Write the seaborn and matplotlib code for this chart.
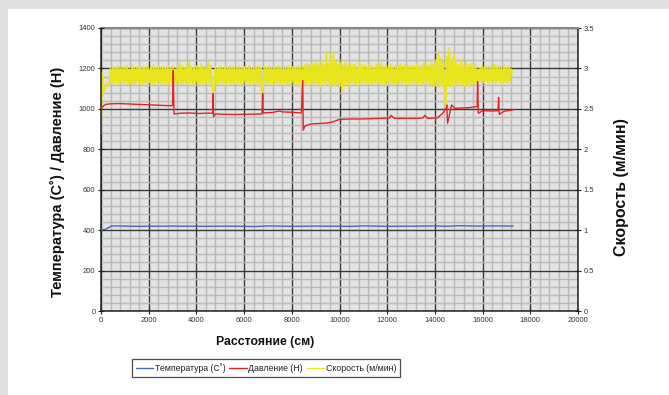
import numpy as np
import pandas as pd
import matplotlib
matplotlib.use("Agg")
import matplotlib.pyplot as plt
from matplotlib.patches import Rectangle
from matplotlib.ticker import MultipleLocator
from matplotlib.lines import Line2D
import seaborn as sns

# ---------------- data ----------------
temp_dist = [0, 200, 450, 1500, 3000, 4500, 5200, 6500, 7000, 8000, 9000, 10500, 11000,
             12000, 13500, 14000, 14500, 15000, 15800, 16500, 17280]
temp_vals = [400, 405, 421, 419, 420, 419, 420, 418, 421, 419, 420, 419, 421,
             419, 420, 421, 419, 422, 420, 421, 420]

press_dist = [0, 100, 200, 400, 800, 1200, 1600, 2000, 2400, 2800, 3000, 3030, 3060,
              3300, 3700, 4100, 4500, 4680, 4700, 4720, 4800, 5200, 5600, 6000, 6400,
              6750, 6780, 6800, 7200, 7500, 7600, 8000, 8400, 8460, 8480, 8550, 8800,
              9200, 9500, 9700, 10000, 10400, 11000, 11500, 12100, 12160, 12300, 12800,
              13200, 13500, 13580, 13700, 14100, 14300, 14400, 14480, 14500, 14530,
              14700, 14840, 15350, 15770, 15790, 15820, 16000, 16400, 16650, 16670,
              16700, 16900, 17290]
press_vals = [1000, 1015, 1022, 1025, 1026, 1024, 1022, 1020, 1018, 1016, 1016, 1190, 975,
              978, 980, 977, 979, 978, 1075, 962, 975, 973, 972, 973, 974,
              975, 1075, 980, 982, 990, 985, 983, 980, 1140, 895, 915, 925,
              928, 930, 935, 948, 950, 950, 952, 955, 968, 953, 953,
              953, 955, 968, 953, 955, 975, 990, 1005, 1019, 929,
              1019, 1003, 1005, 1011, 1135, 978, 991, 989, 991, 1057,
              973, 988, 995]

speed_start = 0
speed_step = 50
speed_vals = [
    2.20, 2.95, 2.70, 2.74, 2.80, 2.82, 2.78, 2.81, 3.00, 2.82, 3.02, 2.81, 3.01, 2.83, 3.03, 2.80, 3.00, 2.82, 3.02, 2.81,
    3.01, 2.82, 3.03, 2.80, 2.99, 2.83, 3.04, 2.81, 3.01, 2.80, 3.00, 2.83, 3.03, 2.81, 3.02, 2.80, 3.01, 2.82, 3.03, 2.81,
    3.00, 2.82, 3.02, 2.80, 3.04, 2.81, 3.01, 2.83, 3.03, 2.80, 3.00, 2.81, 3.02, 2.82, 3.01, 2.80, 3.03, 2.81, 3.00, 2.82,
    3.03, 2.82, 2.99, 2.81, 3.01, 2.82, 3.07, 2.80, 3.02, 2.82, 3.01, 2.81, 3.03, 2.80, 3.09, 2.82, 3.02, 2.81, 3.01, 2.80,
    3.03, 2.81, 3.01, 2.80, 3.06, 2.82, 3.02, 2.81, 3.01, 2.82, 3.08, 2.80, 3.03, 2.81, 2.70, 2.82, 3.02, 2.80, 3.01, 2.81,
    3.03, 2.82, 3.00, 2.81, 3.02, 2.80, 3.01, 2.82, 3.03, 2.81, 3.01, 2.80, 3.02, 2.82, 3.00, 2.81, 3.03, 2.80, 3.01, 2.82,
    3.02, 2.81, 3.01, 2.82, 3.03, 2.80, 3.00, 2.81, 3.02, 2.82, 3.01, 2.80, 3.03, 2.81, 3.01, 2.62, 2.82, 3.02, 2.81, 3.01,
    2.80, 3.03, 2.82, 3.00, 2.81, 3.02, 2.80, 3.01, 2.82, 3.03, 2.81, 3.01, 2.80, 3.02, 2.82, 3.00, 2.81, 3.03, 2.80, 3.01,
    2.82, 3.02, 2.81, 3.01, 2.80, 3.03, 2.82, 3.01, 2.76, 3.02, 2.81, 3.04, 2.80, 3.06, 2.82, 3.04, 2.81, 3.05, 2.80, 3.06,
    2.81, 3.08, 2.80, 3.05, 2.78, 3.10, 2.82, 3.04, 2.79, 3.21, 2.81, 3.06, 2.78, 3.15, 2.80, 3.21, 2.79, 3.08, 2.81, 3.05,
    2.78, 3.07, 2.71, 3.04, 2.80, 3.10, 2.81, 3.03, 2.78, 3.06, 2.82, 3.04, 2.80, 3.05, 2.81, 3.02, 2.80, 3.08, 2.82, 3.03,
    2.81, 3.04, 2.80, 3.02, 2.82, 3.06, 2.81, 3.03, 2.80, 3.01, 2.82, 3.05, 2.81, 3.03, 2.80, 3.07, 2.82, 3.02, 2.81, 3.04,
    2.80, 3.03, 2.82, 3.05, 2.81, 3.01, 2.80, 3.04, 2.82, 3.03, 2.81, 3.06, 2.80, 3.02, 2.82, 3.04, 2.81, 3.05, 2.80, 3.03,
    2.82, 3.04, 2.81, 3.02, 2.80, 3.06, 2.82, 3.03, 2.81, 3.04, 2.80, 3.07, 2.82, 3.02, 2.81, 3.04, 2.79, 3.08, 2.80, 3.05,
    2.78, 3.10, 2.80, 3.21, 2.77, 3.12, 2.79, 3.08, 2.78, 2.55, 3.15, 2.80, 3.25, 2.77, 3.12, 2.79, 3.18, 2.78, 3.06, 2.80,
    3.05, 2.79, 3.10, 2.81, 3.03, 2.78, 3.08, 2.80, 3.04, 2.77, 3.06, 2.81, 3.03, 2.80, 3.05, 2.82, 2.99, 2.84, 3.01, 2.83,
    3.02, 2.82, 3.04, 2.84, 3.00, 2.81, 3.03, 2.83, 3.01, 2.82, 3.05, 2.81, 3.02, 2.84, 3.03, 2.82, 3.00, 2.80, 3.03, 2.83,
    3.01, 2.82, 3.03, 2.84, 2.99, 2.95,
]
speed_dist = speed_start + speed_step * np.arange(len(speed_vals))

x_ticks = [0, 2000, 4000, 6000, 8000, 10000, 12000, 14000, 16000, 18000, 20000]
left_ticks = [0, 200, 400, 600, 800, 1000, 1200, 1400]
right_ticks = [0, 0.5, 1, 1.5, 2, 2.5, 3, 3.5]
right_tick_labels = ["0", "0.5", "1", "1.5", "2", "2.5", "3", "3.5"]

lbl_temp = "Температура (С˚)"
lbl_press = "Давление (Н)"
lbl_speed = "Скорость (м/мин)"
xlabel = "Расстояние (см)"
ylabel_left = "Температура (C˚) / Давление (H)"
ylabel_right = "Скорость (м/мин)"

temp_df = pd.DataFrame({"d": temp_dist, "v": temp_vals})
press_df = pd.DataFrame({"d": press_dist, "v": press_vals})
speed_df = pd.DataFrame({"d": speed_dist, "v": speed_vals})

# ---------------- style ----------------
sns.set_theme(style="white")
plt.rcParams["font.family"] = ["Liberation Sans", "DejaVu Sans"]

C_TEMP = "#4a64c0"
C_PRESS = "#e42424"
C_SPEED = "#e8e41e"
GRID_MINOR = "#bababa"
GRID_MAJOR = "#3a3a3a"
PLOT_BG = "#e3e3e3"
TXT = "#333333"

fig = plt.figure(figsize=(6.69, 3.95), dpi=100)
fig.patch.set_facecolor("#e0e0e0")
fig.patches.append(Rectangle((8 / 669, 0), 1, 1 - 9 / 395, transform=fig.transFigure,
                             facecolor="white", edgecolor="none", zorder=0))

pos = [101 / 669, 1 - 311 / 395, 477 / 669, 283 / 395]
ax2 = fig.add_axes(pos)              # bottom axes: background, grid, speed
ax1 = fig.add_axes(pos, sharex=ax2)  # top axes: temperature, pressure
ax2.set_zorder(1)
ax1.set_zorder(2)
ax1.patch.set_visible(False)

ax2.set_facecolor(PLOT_BG)
ax2.set_xlim(0, 20000)
ax2.set_ylim(0, 3.5)
ax1.set_ylim(0, 1400)

ax2.xaxis.set_major_locator(MultipleLocator(2000))
ax2.xaxis.set_minor_locator(MultipleLocator(400))
ax2.yaxis.set_major_locator(MultipleLocator(0.5))
ax2.yaxis.set_minor_locator(MultipleLocator(0.1))
ax2.grid(True, which="minor", color=GRID_MINOR, linewidth=1.0)
ax2.grid(True, which="major", color=GRID_MAJOR, linewidth=1.0)
ax2.set_axisbelow(True)

sns.lineplot(data=speed_df, x="d", y="v", ax=ax2, color=C_SPEED, linewidth=1.3,
             estimator=None, sort=False)
sns.lineplot(data=temp_df, x="d", y="v", ax=ax1, color=C_TEMP, linewidth=1.0,
             estimator=None, sort=False)
sns.lineplot(data=press_df, x="d", y="v", ax=ax1, color=C_PRESS, linewidth=1.0,
             estimator=None, sort=False)
ax2.set_xlabel("")

ax1.set_xticks(x_ticks)
ax1.set_xticklabels([str(t) for t in x_ticks])
ax1.set_yticks(left_ticks)
ax1.set_yticklabels([str(t) for t in left_ticks])
ax1.yaxis.set_minor_locator(plt.NullLocator())
ax1.xaxis.set_minor_locator(plt.NullLocator())
ax2.yaxis.tick_right()
ax2.yaxis.set_label_position("right")
ax2.set_yticks(right_ticks)
ax2.set_yticklabels(right_tick_labels)
ax2.yaxis.set_minor_locator(MultipleLocator(0.1))
ax2.xaxis.set_minor_locator(MultipleLocator(400))

for a in (ax1, ax2):
    a.tick_params(which="major", length=4, width=0.8, direction="inout",
                  labelsize=5.5, labelcolor=TXT, color="#222222", pad=2)
    a.tick_params(which="minor", length=0)
ax1.tick_params(axis="x", labelbottom=True, bottom=True)
ax2.tick_params(axis="x", labelbottom=False, bottom=False)
ax1.tick_params(axis="y", left=True, right=False, labelleft=True, labelright=False)
ax2.tick_params(axis="y", left=False, right=True, labelleft=False, labelright=True)

for a in (ax1, ax2):
    for s in a.spines.values():
        s.set_visible(False)
for k in ("left", "bottom", "right", "top"):
    ax2.spines[k].set_visible(True)
    ax2.spines[k].set_color("#222222")
    ax2.spines[k].set_linewidth(1.1)
ax2.spines["top"].set_color("#888888")
ax2.spines["top"].set_linewidth(1.5)

ax1.set_xlabel(xlabel, fontsize=8.8, fontweight="bold", color="#111111")
ax1.xaxis.set_label_coords((265 - 101) / 477, (311 - 336) / 283)
ax1.set_ylabel(ylabel_left, fontsize=10.5, fontweight="bold", color="#111111")
ax1.yaxis.set_label_coords((65 - 101) / 477, (311 - 182) / 283)
ax2.set_ylabel(ylabel_right, fontsize=11.5, fontweight="bold", color="#111111")
ax2.yaxis.set_label_coords((614 - 101) / 477, (311 - 187) / 283)

handles = [Line2D([], [], color=C_TEMP, lw=1.0),
           Line2D([], [], color=C_PRESS, lw=1.0),
           Line2D([], [], color=C_SPEED, lw=1.0)]
leg = fig.legend(handles, [lbl_temp, lbl_press, lbl_speed], loc="center",
                 bbox_to_anchor=(266 / 669, 1 - 368 / 395), ncol=3, fontsize=6.3,
                 frameon=True, fancybox=False, edgecolor="#222222",
                 handlelength=2.0, handletextpad=0.2, columnspacing=0.4,
                 borderpad=0.45, borderaxespad=0)
leg.get_frame().set_linewidth(0.9)
for t in leg.get_texts():
    t.set_color("#222222")

fig.savefig("out.png", dpi=100, facecolor=fig.get_facecolor())
